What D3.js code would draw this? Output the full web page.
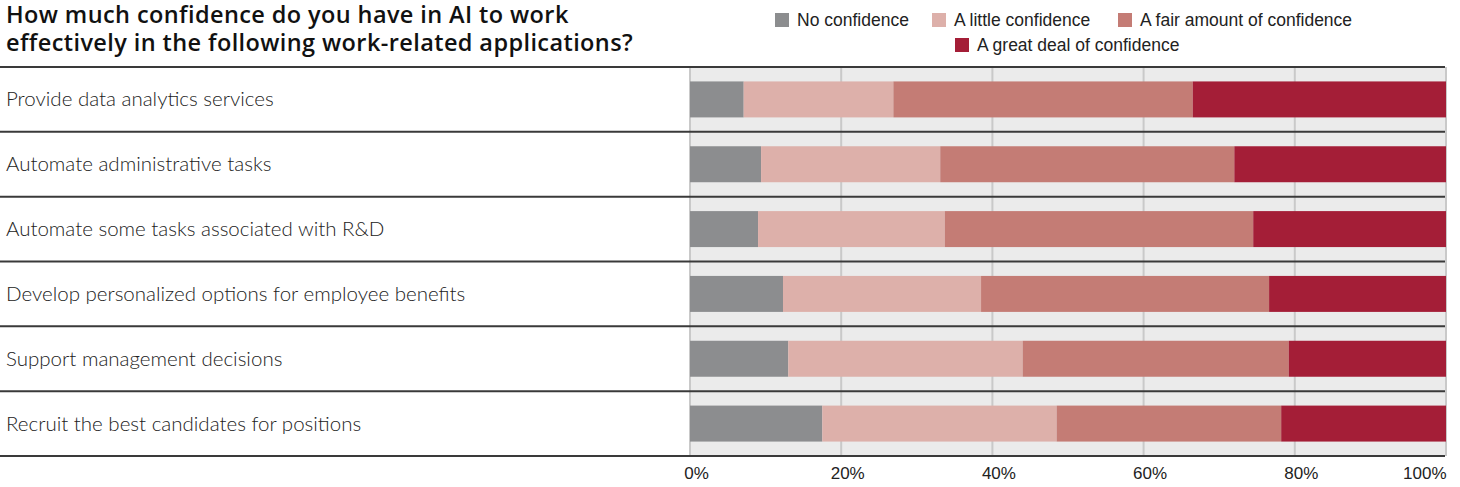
<!DOCTYPE html>
<html>
<head>
<meta charset="utf-8">
<title>Confidence in AI</title>
<script src="https://cdn.jsdelivr.net/npm/d3@7"></script>
<style>
  body { margin: 0; background: #fff; }
  svg { display: block; }
  .title { font-family: "Open Sans", sans-serif; font-weight: 600; font-size: 23.5px; letter-spacing: 0.4px; fill: #111; }
  .lbl { font-family: "Lato", sans-serif; font-weight: 300; font-size: 20.5px; fill: #222; }
  .leg { font-family: "Liberation Sans Narrow", sans-serif; font-size: 17.5px; fill: #222; }
</style>
</head>
<body>
<script>
// data (percent of respondents)
var categories = [
  "Provide data analytics services",
  "Automate administrative tasks",
  "Automate some tasks associated with R&D",
  "Develop personalized options for employee benefits",
  "Support management decisions",
  "Recruit the best candidates for positions"
];
var seriesNames = ["No confidence", "A little confidence", "A fair amount of confidence", "A great deal of confidence"];
var noConf    = [7.1, 9.4, 9.0, 12.3, 13.0, 17.5];
var littleConf = [19.8, 23.7, 24.7, 26.2, 31.0, 31.0];
var fairConf  = [39.6, 38.9, 40.8, 38.1, 35.2, 29.7];
var greatConf = [33.5, 28.0, 25.5, 23.4, 20.8, 21.8];
var tickValues = [0, 20, 40, 60, 80, 100];
var colors = ["#8c8d8f", "#ddb0aa", "#c47c75", "#a41e37"];

var width = 1460, height = 487;

var svg = d3.select("body").append("svg")
  .attr("width", width)
  .attr("height", height);

// table for the stack
var rows = categories.map(function(c, i){
  return { cat: c, s0: noConf[i], s1: littleConf[i], s2: fairConf[i], s3: greatConf[i] };
});
var stack = d3.stack().keys(["s0", "s1", "s2", "s3"])(rows);

var x = d3.scaleLinear().domain([0, 100]).range([690, 1446]);
var y = d3.scaleBand().domain(categories).range([67, 456])
  .paddingInner(0.445).paddingOuter(0.2225);
var step = y.step();

// title
svg.append("text").attr("class", "title").attr("x", 6).attr("y", 23)
  .text("How much confidence do you have in AI to work");
svg.append("text").attr("class", "title").attr("x", 6).attr("y", 51)
  .text("effectively in the following work-related applications?");

// legend
var legPos = [[775, 20], [932, 20], [1118, 20], [955, 45]];
seriesNames.forEach(function(n, i){
  var g = svg.append("g").attr("transform", "translate(" + legPos[i][0] + "," + legPos[i][1] + ")");
  g.append("rect").attr("x", 0).attr("y", -7).attr("width", 14).attr("height", 14).attr("fill", colors[i]);
  g.append("text").attr("class", "leg").attr("x", 22).attr("y", 6).text(n);
});

// plot background + grid
svg.append("rect")
  .attr("x", x(0)).attr("y", 67)
  .attr("width", x(100) - x(0) + 1).attr("height", 456 - 67)
  .attr("fill", "#ebebeb");

svg.selectAll(".grid").data(tickValues).enter().append("line")
  .attr("class", "grid")
  .attr("x1", function(d){ return x(d); }).attr("x2", function(d){ return x(d); })
  .attr("y1", 67).attr("y2", 456)
  .attr("stroke", "#c9c9c9").attr("stroke-width", 2);

// bars
svg.selectAll(".series").data(stack).enter().append("g")
  .attr("class", "series")
  .attr("fill", function(d, i){ return colors[i]; })
  .selectAll("rect").data(function(d){ return d; }).enter().append("rect")
  .attr("x", function(d){ return x(d[0]); })
  .attr("y", function(d){ return y(d.data.cat); })
  .attr("width", function(d){ return x(d[1]) - x(d[0]); })
  .attr("height", y.bandwidth());

// row separators
d3.range(categories.length + 1).forEach(function(i){
  svg.append("line")
    .attr("x1", 0).attr("x2", 1445)
    .attr("y1", 67 + i * step).attr("y2", 67 + i * step)
    .attr("stroke", "#3a3a3a").attr("stroke-width", 2);
});

// row labels
svg.selectAll(".lbl").data(categories).enter().append("text")
  .attr("class", "lbl")
  .attr("x", 6)
  .attr("y", function(d){ return y(d) + y.bandwidth() / 2 + 7; })
  .text(function(d){ return d; });

// x axis labels
var axis = d3.axisBottom(x).tickValues(tickValues).tickSize(0)
  .tickFormat(function(d){ return d + "%"; });
var ax = svg.append("g").attr("transform", "translate(0,464)").call(axis);
ax.select(".domain").remove();
ax.selectAll("text")
  .attr("fill", "#222")
  .attr("dx", function(d){ return d === 100 ? 0 : 6; })
  .attr("text-anchor", function(d){ return d === 100 ? "end" : "middle"; })
  .attr("dy", "0.71em")
  .style("font-family", "Liberation Sans Narrow, sans-serif")
  .style("font-size", "17px");
</script>
</body>
</html>
